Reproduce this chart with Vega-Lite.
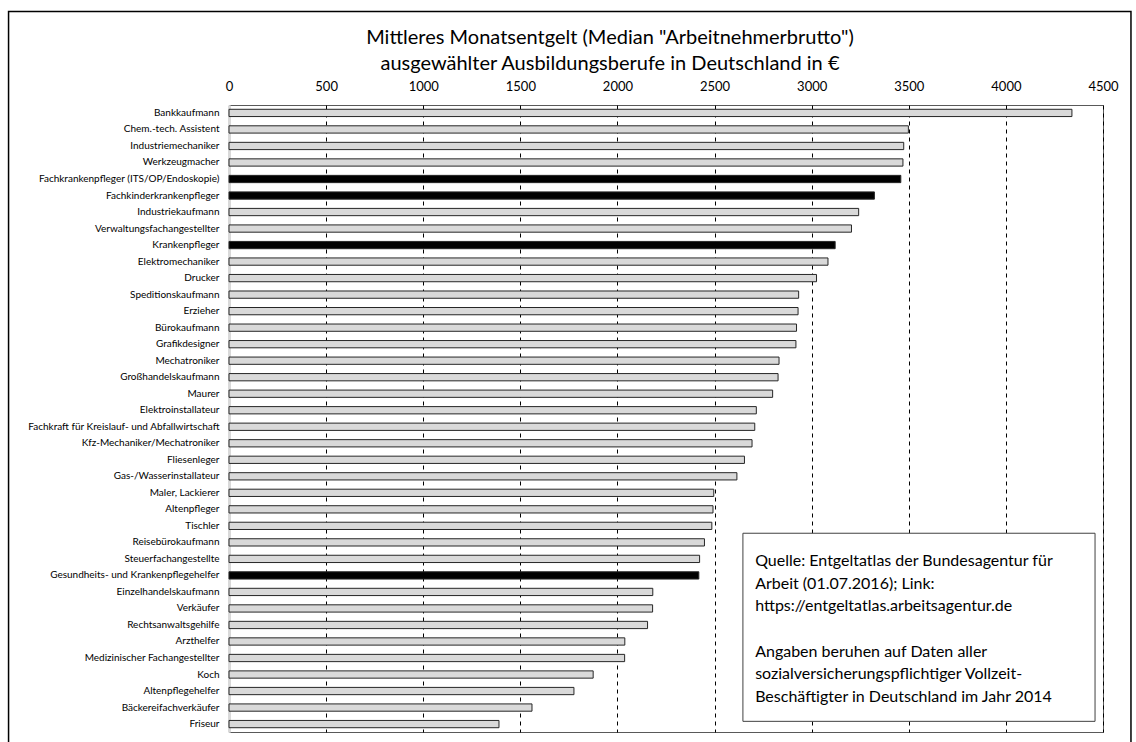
{
  "$schema": "https://vega.github.io/schema/vega-lite/v6.json",
  "width": 874,
  "height": 627,
  "autosize": "none",
  "padding": {"left": 229, "top": 105, "right": 33, "bottom": 10},
  "background": "white",
  "config": {
    "font": "Lato",
    "view": {"stroke": "#595959", "strokeWidth": 1},
    "title": {"font": "Lato", "fontSize": 20, "fontWeight": "normal", "color": "black", "lineHeight": 26}
  },
  "title": {
    "text": ["Mittleres Monatsentgelt (Median \"Arbeitnehmerbrutto\")", "ausgewählter Ausbildungsberufe in Deutschland in €"],
    "anchor": "middle",
    "dx": -56,
    "dy": 71,
    "offset": 8
  },
  "layer": [
    {
      "data": {
        "values": [
          {"Beruf": "Bankkaufmann", "Entgelt": 4340, "Pflege": "nein"},
          {"Beruf": "Chem.-tech. Assistent", "Entgelt": 3498, "Pflege": "nein"},
          {"Beruf": "Industriemechaniker", "Entgelt": 3474, "Pflege": "nein"},
          {"Beruf": "Werkzeugmacher", "Entgelt": 3470, "Pflege": "nein"},
          {"Beruf": "Fachkrankenpfleger (ITS/OP/Endoskopie)", "Entgelt": 3459, "Pflege": "ja"},
          {"Beruf": "Fachkinderkrankenpfleger", "Entgelt": 3323, "Pflege": "ja"},
          {"Beruf": "Industriekaufmann", "Entgelt": 3242, "Pflege": "nein"},
          {"Beruf": "Verwaltungsfachangestellter", "Entgelt": 3205, "Pflege": "nein"},
          {"Beruf": "Krankenpfleger", "Entgelt": 3121, "Pflege": "ja"},
          {"Beruf": "Elektromechaniker", "Entgelt": 3084, "Pflege": "nein"},
          {"Beruf": "Drucker", "Entgelt": 3025, "Pflege": "nein"},
          {"Beruf": "Speditionskaufmann", "Entgelt": 2933, "Pflege": "nein"},
          {"Beruf": "Erzieher", "Entgelt": 2930, "Pflege": "nein"},
          {"Beruf": "Bürokaufmann", "Entgelt": 2922, "Pflege": "nein"},
          {"Beruf": "Grafikdesigner", "Entgelt": 2919, "Pflege": "nein"},
          {"Beruf": "Mechatroniker", "Entgelt": 2832, "Pflege": "nein"},
          {"Beruf": "Großhandelskaufmann", "Entgelt": 2827, "Pflege": "nein"},
          {"Beruf": "Maurer", "Entgelt": 2799, "Pflege": "nein"},
          {"Beruf": "Elektroinstallateur", "Entgelt": 2715, "Pflege": "nein"},
          {"Beruf": "Fachkraft für Kreislauf- und Abfallwirtschaft", "Entgelt": 2707, "Pflege": "nein"},
          {"Beruf": "Kfz-Mechaniker/Mechatroniker", "Entgelt": 2693, "Pflege": "nein"},
          {"Beruf": "Fliesenleger", "Entgelt": 2654, "Pflege": "nein"},
          {"Beruf": "Gas-/Wasserinstallateur", "Entgelt": 2615, "Pflege": "nein"},
          {"Beruf": "Maler, Lackierer", "Entgelt": 2496, "Pflege": "nein"},
          {"Beruf": "Altenpfleger", "Entgelt": 2492, "Pflege": "nein"},
          {"Beruf": "Tischler", "Entgelt": 2486, "Pflege": "nein"},
          {"Beruf": "Reisebürokaufmann", "Entgelt": 2448, "Pflege": "nein"},
          {"Beruf": "Steuerfachangestellte", "Entgelt": 2423, "Pflege": "nein"},
          {"Beruf": "Gesundheits- und Krankenpflegehelfer", "Entgelt": 2419, "Pflege": "ja"},
          {"Beruf": "Einzelhandelskaufmann", "Entgelt": 2182, "Pflege": "nein"},
          {"Beruf": "Verkäufer", "Entgelt": 2181, "Pflege": "nein"},
          {"Beruf": "Rechtsanwaltsgehilfe", "Entgelt": 2155, "Pflege": "nein"},
          {"Beruf": "Arzthelfer", "Entgelt": 2038, "Pflege": "nein"},
          {"Beruf": "Medizinischer Fachangestellter", "Entgelt": 2037, "Pflege": "nein"},
          {"Beruf": "Koch", "Entgelt": 1875, "Pflege": "nein"},
          {"Beruf": "Altenpflegehelfer", "Entgelt": 1776, "Pflege": "nein"},
          {"Beruf": "Bäckereifachverkäufer", "Entgelt": 1560, "Pflege": "nein"},
          {"Beruf": "Friseur", "Entgelt": 1390, "Pflege": "nein"}
        ]
      },
      "mark": {"type": "bar", "stroke": "#262626", "strokeWidth": 1},
      "encoding": {
        "y": {
          "field": "Beruf",
          "type": "nominal",
          "sort": null,
          "scale": {"paddingInner": 0.56, "paddingOuter": 0.26},
          "axis": {
            "title": null,
            "ticks": false,
            "domainColor": "#d9d9d9",
            "domainWidth": 3,
            "labelFontSize": 10,
            "labelColor": "black",
            "labelPadding": 10,
            "labelLimit": 0,
            "grid": false
          }
        },
        "x": {
          "field": "Entgelt",
          "type": "quantitative",
          "scale": {"domain": [0, 4500], "nice": false},
          "axis": {
            "orient": "top",
            "title": null,
            "format": "d",
            "values": [0, 500, 1000, 1500, 2000, 2500, 3000, 3500, 4000, 4500],
            "ticks": false,
            "domain": false,
            "labelFontSize": 13,
            "labelColor": "black",
            "labelPadding": 12,
            "labelFlush": false,
            "grid": true,
            "gridColor": {"condition": {"test": "datum.value === 0", "value": "#d9d9d9"}, "value": "black"},
            "gridDash": [4, 4],
            "gridWidth": 1,
            "gridOpacity": 1
          }
        },
        "color": {
          "field": "Pflege",
          "type": "nominal",
          "scale": {"domain": ["nein", "ja"], "range": ["#d9d9d9", "#000000"]},
          "legend": null
        }
      }
    },
    {
      "data": {"values": [{"quelle": "Quelle: Entgeltatlas der Bundesagentur für\nArbeit (01.07.2016); Link:\nhttps://entgeltatlas.arbeitsagentur.de", "angaben": "Angaben beruhen auf Daten aller\nsozialversicherungspflichtiger Vollzeit-\nBeschäftigter in Deutschland im Jahr 2014"}]},
      "layer": [
        {
          "mark": {"type": "rect", "fill": "white", "stroke": "#404040", "strokeWidth": 1},
          "encoding": {
            "x": {"datum": 2646, "type": "quantitative"},
            "x2": {"datum": 4459},
            "y": {"datum": 0.317, "type": "quantitative", "scale": {"domain": [0, 1], "nice": false, "zero": false}, "axis": null},
            "y2": {"datum": 0.017}
          }
        },
        {
          "mark": {"type": "text", "align": "left", "baseline": "top", "fontSize": 16, "lineHeight": 22.7, "lineBreak": "\n", "font": "Lato", "color": "black"},
          "encoding": {
            "x": {"datum": 2709, "type": "quantitative"},
            "y": {"datum": 0.2855, "type": "quantitative", "scale": {"domain": [0, 1], "nice": false, "zero": false}, "axis": null},
            "text": {"field": "quelle", "type": "nominal"}
          }
        },
        {
          "mark": {"type": "text", "align": "left", "baseline": "top", "fontSize": 16, "lineHeight": 22.7, "lineBreak": "\n", "font": "Lato", "color": "black"},
          "encoding": {
            "x": {"datum": 2709, "type": "quantitative"},
            "y": {"datum": 0.1407, "type": "quantitative", "scale": {"domain": [0, 1], "nice": false, "zero": false}, "axis": null},
            "text": {"field": "angaben", "type": "nominal"}
          }
        },
        {
          "mark": {"type": "rect", "fill": null, "stroke": "black", "strokeWidth": 1.5, "clip": false},
          "encoding": {
            "x": {"datum": -1135, "type": "quantitative"},
            "x2": {"datum": 4644},
            "y": {"datum": 1.149, "type": "quantitative", "scale": {"domain": [0, 1], "nice": false, "zero": false}, "axis": null},
            "y2": {"datum": -0.03}
          }
        }
      ]
    }
  ],
  "resolve": {"scale": {"y": "independent"}}
}
